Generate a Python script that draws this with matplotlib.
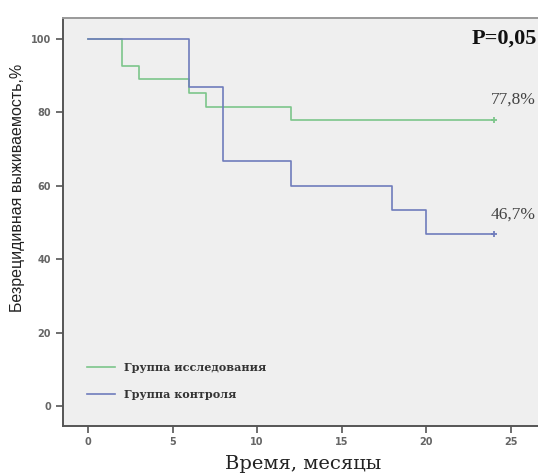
import matplotlib
matplotlib.use("Agg")
import matplotlib.pyplot as plt

# Data (Kaplan-Meier step curves)
study_t = [0, 2, 3, 6, 7, 12, 24]
study_s = [100, 92.6, 88.9, 85.2, 81.5, 77.8, 77.8]
ctrl_t = [0, 6, 8, 12, 18, 20, 24]
ctrl_s = [100, 86.7, 66.7, 60.0, 53.3, 46.7, 46.7]
labels = ["Группа исследования", "Группа контроля"]
end_labels = ["77,8%", "46,7%"]
xticks = [0, 5, 10, 15, 20, 25]
yticks = [0, 20, 40, 60, 80, 100]

green = "#7cc68b"
blue = "#6f7cbc"

fig = plt.figure(figsize=(5.38, 4.75), dpi=100)
ax = fig.add_axes([63/538, 1-426/475, 478/538, (426-18)/475])
ax.set_facecolor("#efefef")

ax.step(study_t, study_s, where="post", color=green, lw=1.2, label=labels[0])
ax.step(ctrl_t, ctrl_s, where="post", color=blue, lw=1.2, label=labels[1])
ax.plot([study_t[-1]], [study_s[-1]], marker="+", color=green, ms=5, mew=1.3)
ax.plot([ctrl_t[-1]], [ctrl_s[-1]], marker="+", color=blue, ms=5, mew=1.3)

ax.set_xlim(-1.48, 26.8)
ax.set_ylim(-5.44, 105.6)
ax.set_xticks(xticks)
ax.set_yticks(yticks)
ax.tick_params(direction="out", length=5, width=1.2, color="#555555",
               labelsize=7, labelcolor="#666666")
for lab in ax.get_xticklabels() + ax.get_yticklabels():
    lab.set_fontweight("bold")
ax.tick_params(axis="x", pad=3)

for side in ["left", "bottom"]:
    ax.spines[side].set_color("#555555")
    ax.spines[side].set_linewidth(1.4)
ax.spines["top"].set_color("#999999")
ax.spines["top"].set_linewidth(1.4)
ax.spines["right"].set_visible(False)

fig.text(303/538, 1-464/475, "Время, месяцы", family="DejaVu Serif", fontsize=14,
         color="#222222", ha="center", va="center")
fig.text(18/538, 1-188/475, "Безрецидивная выживаемость,%", family="Liberation Sans",
         fontsize=11.5, color="#222222", ha="center", va="center", rotation=90)

ax.text(26.55, 100, "P=0,05", family="Liberation Serif", fontweight="bold", fontsize=16,
        ha="right", va="center", color="#111111")
ax.text(26.5, study_s[-1] + 5.5, end_labels[0], family="Liberation Serif", fontsize=12.5,
        ha="right", va="center", color="#444444")
ax.text(26.5, ctrl_s[-1] + 5.3, end_labels[1], family="Liberation Serif", fontsize=12.5,
        ha="right", va="center", color="#444444")

leg = ax.legend(loc="lower left", bbox_to_anchor=(0.03, 0.04), frameon=False,
                prop={"family": "DejaVu Serif", "weight": "bold", "size": 8},
                handlelength=2.5, labelspacing=1.4, handletextpad=0.8)
for t in leg.get_texts():
    t.set_color("#333333")

fig.savefig("out.png", dpi=100)
